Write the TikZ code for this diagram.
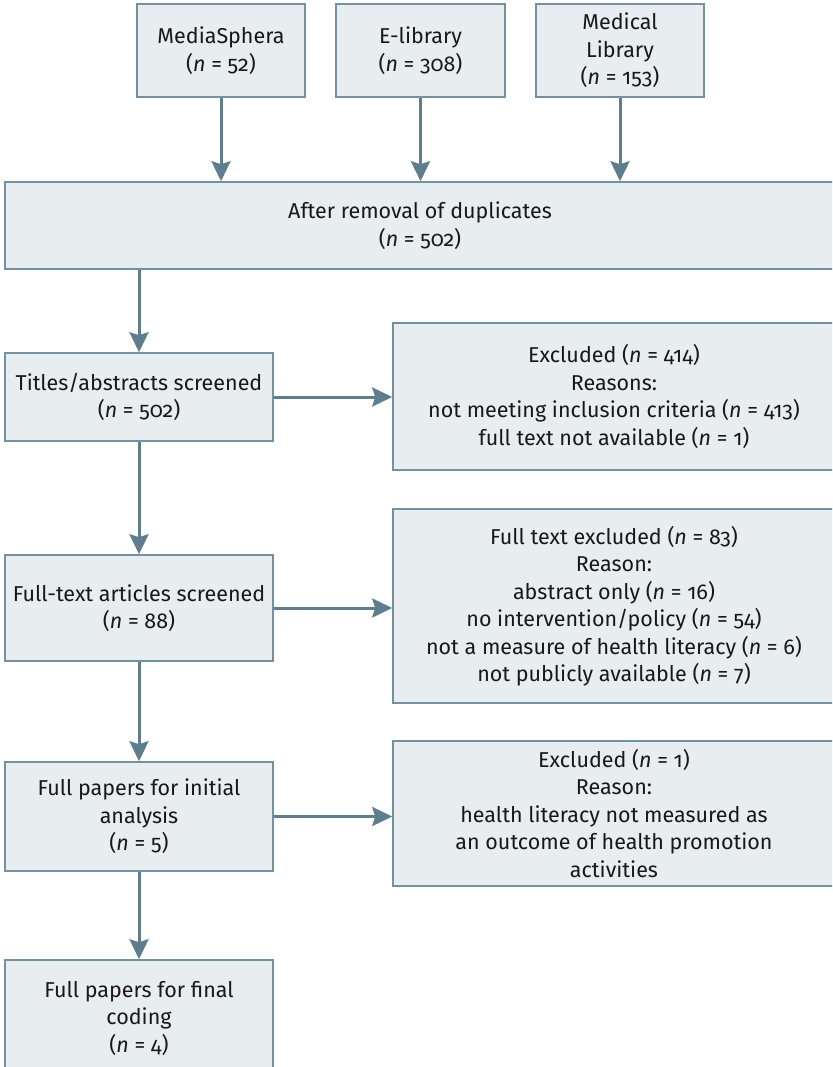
\documentclass[tikz,border=0pt]{standalone}
\usepackage{fontspec}
\setmainfont{Fira Sans}[Numbers=OldStyle]
\usetikzlibrary{arrows.meta}
\definecolor{boxfill}{HTML}{E8EDF0}
\definecolor{boxline}{HTML}{7391A0}
\definecolor{arrowline}{HTML}{5F7E8D}
\definecolor{textcol}{HTML}{1A1718}
\tikzset{
    stage/.style = {draw = boxline, fill = boxfill, line width = 1.5pt, align = center,
        inner sep = 0pt, text = textcol, font = \fontsize{21.5}{27.5}\selectfont},
    flow/.style = {draw = arrowline, line width = 3pt,
        -{Stealth[length = 20pt, width = 19pt, inset = 3pt]}}
}
\begin{document}
\begin{tikzpicture}[x = 1pt, y = -1pt]
    \useasboundingbox (0, 0) rectangle (832, 1067);
    \clip (0, 0) rectangle (832, 1067);
    \node [stage, minimum width = 168, minimum height = 93] (ms) at (221, 50.5) {MediaSphera\\(\textit{n} = 52)};
    \node [stage, minimum width = 169, minimum height = 93] (el) at (420.5, 50.5) {E-library\\(\textit{n} = 308)};
    \node [stage, minimum width = 168, minimum height = 93] (ml) at (620, 50.5) {Medical\\Library\\(\textit{n} = 153)};
    \node [stage, minimum width = 830, minimum height = 87] (dup) at (420, 225.5) {After removal of duplicates\\(\textit{n} = 502)};
    \node [stage, minimum width = 268, minimum height = 88] (ta) at (139, 397) {Titles/abstracts screened\\(\textit{n} = 502)};
    \node [stage, minimum width = 442, minimum height = 147] (ex1) at (614, 396.5) {Excluded (\textit{n} = 414)\\Reasons:\\not meeting inclusion criteria (\textit{n} = 413)\\full text not available (\textit{n} = 1)};
    \node [stage, minimum width = 268, minimum height = 106] (ft) at (139, 608) {Full-text articles screened\\(\textit{n} = 88)};
    \node [stage, minimum width = 442, minimum height = 194] (ex2) at (614, 606) {Full text excluded (\textit{n} = 83)\\Reason:\\abstract only (\textit{n} = 16)\\no intervention/policy (\textit{n} = 54)\\not a measure of health literacy (\textit{n} = 6)\\not publicly available (\textit{n} = 7)};
    \node [stage, minimum width = 268, minimum height = 109] (ip) at (139, 816.5) {Full papers for initial\\analysis\\(\textit{n} = 5)};
    \node [stage, minimum width = 442, minimum height = 145] (ex3) at (614, 813.5) {Excluded (\textit{n} = 1)\\Reason:\\health literacy not measured as\\an outcome of health promotion\\activities};
    \node [stage, minimum width = 268, minimum height = 116] (fc) at (139, 1018) {Full papers for final\\coding\\(\textit{n} = 4)};
    \draw [flow] (ms.south) -- (ms.south |- dup.north);
    \draw [flow] (el.south) -- (el.south |- dup.north);
    \draw [flow] (ml.south) -- (ml.south |- dup.north);
    \draw [flow] (ta.north |- dup.south) -- (ta.north);
    \draw [flow] (ta.south) -- (ft.north);
    \draw [flow] (ft.south) -- (ip.north);
    \draw [flow] (ip.south) -- (fc.north);
    \draw [flow] (ta.east) -- (ta.east -| ex1.west);
    \draw [flow] (ft.east) -- (ft.east -| ex2.west);
    \draw [flow] (ip.east) -- (ip.east -| ex3.west);
\end{tikzpicture}
\end{document}
